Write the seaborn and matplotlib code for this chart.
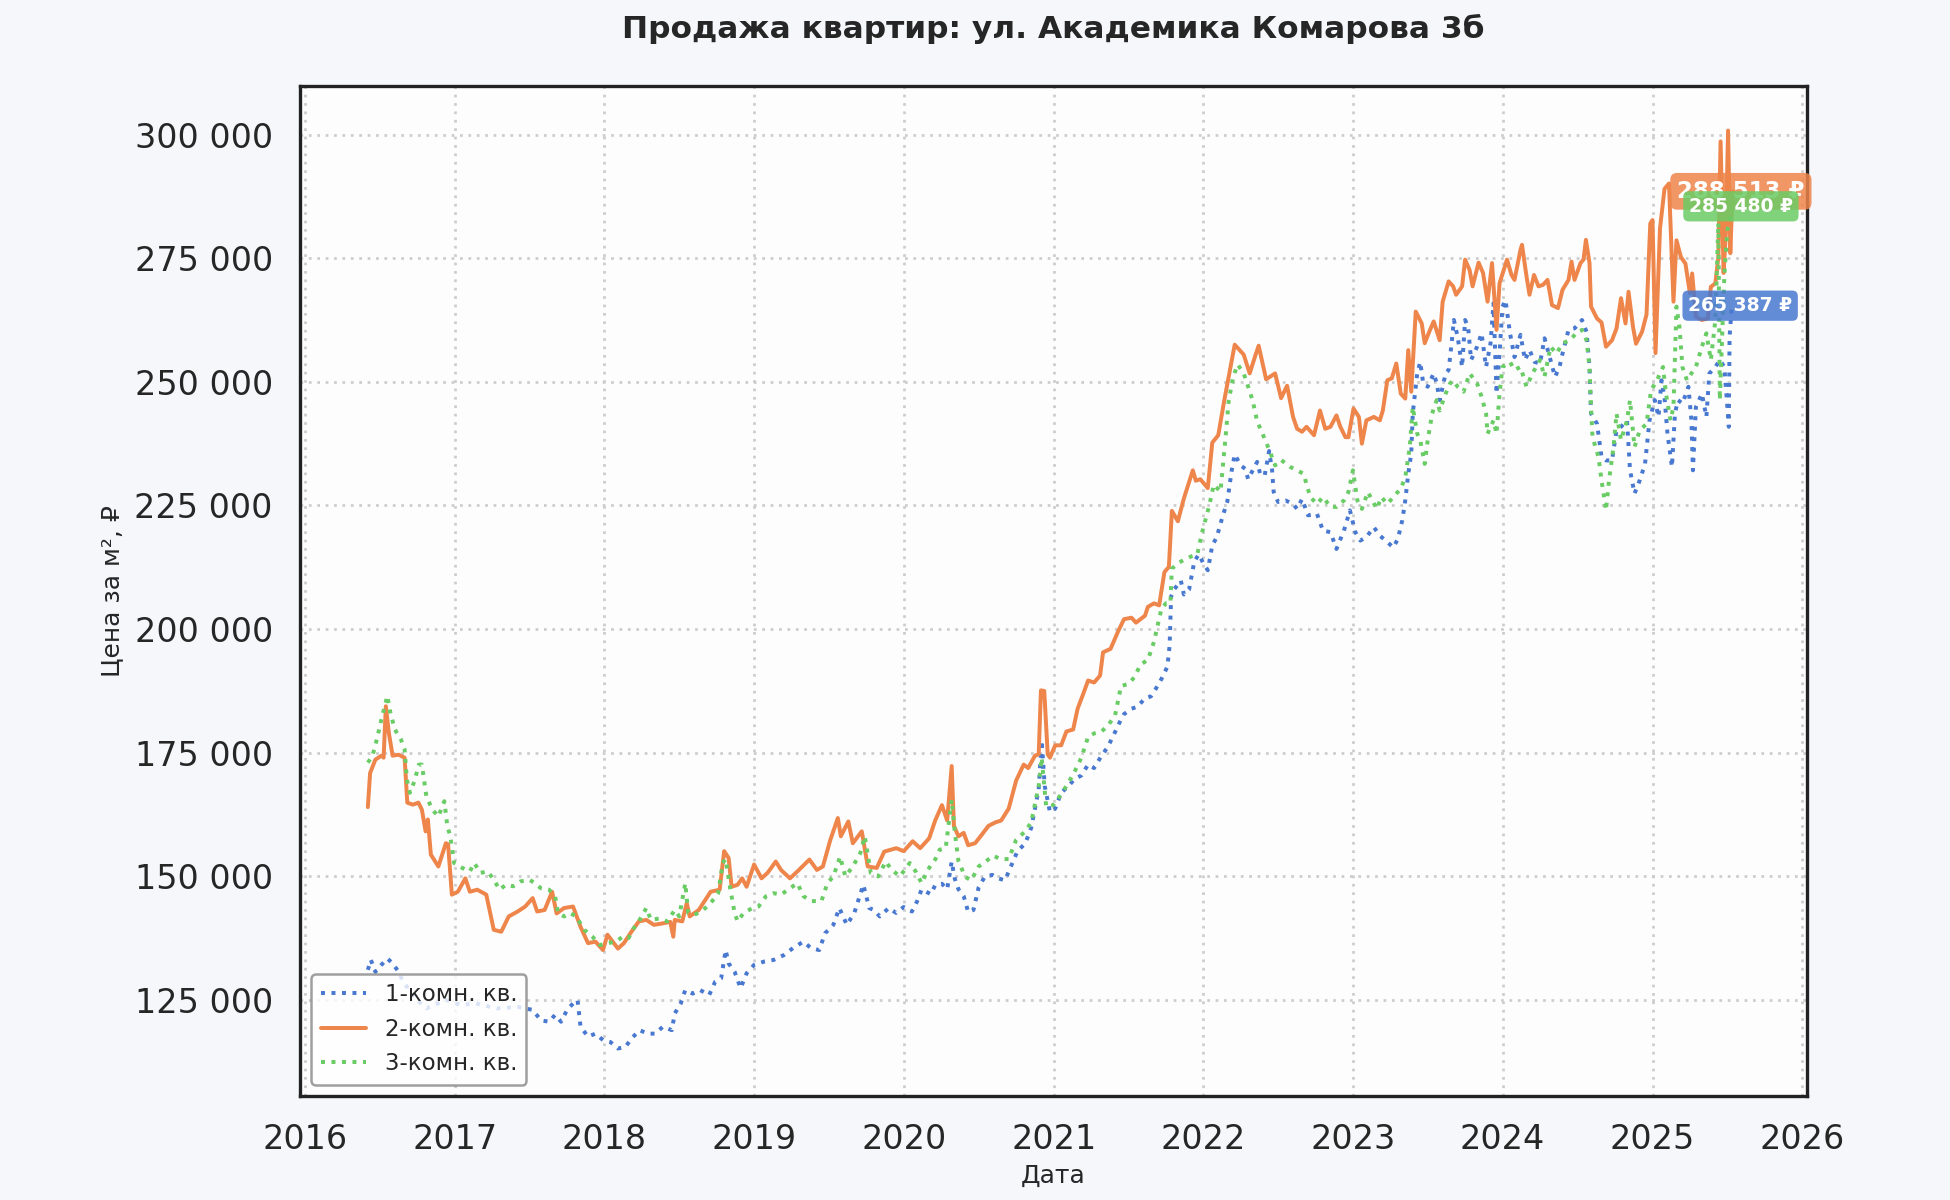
import pandas as pd
import numpy as np
import matplotlib
matplotlib.use("Agg")
import matplotlib.pyplot as plt
import matplotlib.dates as mdates
from matplotlib.ticker import FuncFormatter
import seaborn as sns

# ---------------- DATA (decimal years, price per m2) ----------------
t1 = [2016.42, 2016.44, 2016.47, 2016.51, 2016.55, 2016.585, 2016.625, 2016.65, 2016.73, 2016.81,
      2016.94, 2017.04, 2017.14, 2017.28, 2017.42, 2017.52, 2017.575, 2017.63, 2017.67, 2017.71,
      2017.75, 2017.79, 2017.82, 2017.84, 2017.89, 2017.94, 2017.99, 2018.04, 2018.09, 2018.14,
      2018.18, 2018.235, 2018.29, 2018.34, 2018.39, 2018.45, 2018.47, 2018.51, 2018.54, 2018.59,
      2018.64, 2018.70, 2018.74, 2018.78, 2018.81, 2018.83, 2018.87, 2018.91, 2018.95, 2019.00,
      2019.07, 2019.13, 2019.20, 2019.26, 2019.33, 2019.38, 2019.435, 2019.475, 2019.53, 2019.57,
      2019.62, 2019.67, 2019.73, 2019.77, 2019.80, 2019.84, 2019.90, 2019.95, 2020.00, 2020.055,
      2020.09, 2020.12, 2020.18, 2020.21, 2020.255, 2020.29, 2020.32, 2020.34, 2020.365, 2020.40,
      2020.43, 2020.465, 2020.50, 2020.54, 2020.59, 2020.63, 2020.675, 2020.72, 2020.76, 2020.81,
      2020.85, 2020.90, 2020.92, 2020.94, 2020.975, 2021.01, 2021.05, 2021.10, 2021.14, 2021.185,
      2021.23, 2021.27, 2021.32, 2021.36, 2021.395, 2021.44, 2021.47, 2021.52, 2021.56, 2021.61,
      2021.65, 2021.68, 2021.72, 2021.76, 2021.775, 2021.785, 2021.805, 2021.85, 2021.87, 2021.905,
      2021.94, 2021.97, 2022.00, 2022.03, 2022.06, 2022.09, 2022.13, 2022.16, 2022.19, 2022.21,
      2022.25, 2022.28, 2022.30, 2022.33, 2022.36, 2022.38, 2022.41, 2022.44, 2022.46, 2022.47,
      2022.50, 2022.55, 2022.60, 2022.627, 2022.66, 2022.70, 2022.76, 2022.80, 2022.85, 2022.89,
      2022.94, 2022.98, 2023.016, 2023.05, 2023.09, 2023.14, 2023.18, 2023.23, 2023.27, 2023.30,
      2023.33, 2023.35, 2023.37, 2023.39, 2023.40, 2023.43, 2023.45, 2023.47, 2023.50, 2023.54,
      2023.56, 2023.58, 2023.62, 2023.64, 2023.66, 2023.675, 2023.70, 2023.73, 2023.75, 2023.77,
      2023.79, 2023.83, 2023.86, 2023.89, 2023.92, 2023.94, 2023.96, 2023.98, 2024.00, 2024.02,
      2024.05, 2024.08, 2024.12, 2024.15, 2024.18, 2024.215, 2024.25, 2024.28, 2024.32, 2024.35,
      2024.38, 2024.40, 2024.44, 2024.48, 2024.53, 2024.56, 2024.58, 2024.59, 2024.63, 2024.66,
      2024.69, 2024.73, 2024.76, 2024.79, 2024.83, 2024.85, 2024.88, 2024.915, 2024.95, 2024.98,
      2025.015, 2025.04, 2025.06, 2025.08, 2025.10, 2025.13, 2025.15, 2025.17, 2025.20, 2025.24,
      2025.26, 2025.27, 2025.29, 2025.33, 2025.36, 2025.38, 2025.42, 2025.45, 2025.48, 2025.51,
      2025.515, 2025.53]
v1 = [131100, 133100, 130700, 132100, 133400, 132400, 130700, 129000, 125500, 123300,
      125000, 124000, 124300, 123300, 123600, 123000, 120900, 120600, 122000, 120600,
      123000, 124300, 125000, 119600, 117600, 118200, 116900, 116500, 115200, 115500,
      117200, 118900, 118200, 118200, 119600, 118900, 122300, 124300, 127000, 126300,
      127000, 126000, 128700, 129400, 135100, 132400, 130700, 127400, 130400, 132100,
      132800, 133100, 134100, 135500, 136800, 135500, 135100, 138500, 140200, 143600,
      140200, 142600, 148300, 143600, 143200, 141900, 143600, 142600, 143800, 142900,
      145000, 147400, 146400, 148200, 148500, 147400, 153000, 149600, 147400, 146000,
      142800, 143200, 147800, 149900, 150300, 149600, 149200, 152400, 155200, 156600,
      159800, 167600, 177500, 168300, 163000, 163700, 166900, 168300, 169700, 170400,
      172600, 171900, 174400, 176100, 178200, 181100, 182800, 183900, 184300, 186000,
      186400, 187800, 189900, 192400, 196700, 206600, 208000, 209800, 207000, 208000,
      213700, 215100, 213300, 211900, 216900, 218600, 222900, 225700, 232100, 235300,
      233100, 232400, 230300, 232100, 233800, 231400, 231000, 236000, 232100, 227800,
      225700, 226000, 225300, 224300, 226300, 223000, 223300, 219900, 219600, 216200,
      219900, 224000, 219600, 217900, 218600, 220600, 218900, 217600, 216500, 218200,
      222000, 226000, 231400, 235500, 243600, 251700, 254000, 249700, 249000, 251700,
      249700, 246300, 251700, 252400, 257800, 262500, 259100, 253000, 262500, 261100,
      254400, 257100, 259800, 253000, 257800, 265900, 247600, 255700, 265200, 266500,
      259800, 255000, 259500, 254400, 256400, 254000, 253700, 258800, 254400, 251000,
      253000, 255700, 260500, 260800, 262500, 260100, 253000, 243600, 241500, 234800,
      234100, 234100, 240200, 240900, 242200, 232100, 227400, 230100, 233400, 242200,
      246300, 242900, 250300, 246900, 239500, 232800, 243600, 246300, 245600, 249000,
      242200, 232100, 244900, 247600, 242900, 251700, 253000, 254400, 253000, 240900,
      259100, 265387]

t2 = [2016.42, 2016.435, 2016.47, 2016.51, 2016.525, 2016.54, 2016.56, 2016.585, 2016.625, 2016.665,
      2016.683, 2016.72, 2016.757, 2016.78, 2016.805, 2016.82, 2016.84, 2016.89, 2016.94, 2016.955,
      2016.98, 2017.02, 2017.07, 2017.10, 2017.15, 2017.21, 2017.26, 2017.31, 2017.36, 2017.42,
      2017.47, 2017.52, 2017.55, 2017.60, 2017.65, 2017.68, 2017.73, 2017.79, 2017.84, 2017.89,
      2017.94, 2017.99, 2018.02, 2018.09, 2018.13, 2018.18, 2018.23, 2018.28, 2018.33, 2018.39,
      2018.44, 2018.46, 2018.47, 2018.52, 2018.55, 2018.57, 2018.63, 2018.71, 2018.77, 2018.80,
      2018.83, 2018.85, 2018.89, 2018.92, 2018.95, 2019.00, 2019.05, 2019.09, 2019.145, 2019.18,
      2019.24, 2019.30, 2019.37, 2019.42, 2019.46, 2019.51, 2019.56, 2019.58, 2019.63, 2019.66,
      2019.72, 2019.76, 2019.82, 2019.87, 2019.95, 2020.00, 2020.06, 2020.11, 2020.17, 2020.21,
      2020.255, 2020.29, 2020.32, 2020.335, 2020.365, 2020.40, 2020.43, 2020.476, 2020.52, 2020.565,
      2020.61, 2020.65, 2020.70, 2020.75, 2020.80, 2020.83, 2020.875, 2020.90, 2020.915, 2020.937,
      2020.96, 2020.975, 2021.01, 2021.05, 2021.085, 2021.13, 2021.16, 2021.20, 2021.23, 2021.27,
      2021.31, 2021.33, 2021.38, 2021.43, 2021.47, 2021.52, 2021.55, 2021.61, 2021.63, 2021.67,
      2021.705, 2021.74, 2021.77, 2021.79, 2021.83, 2021.87, 2021.93, 2021.95, 2021.98, 2022.03,
      2022.06, 2022.10, 2022.14, 2022.19, 2022.21, 2022.27, 2022.31, 2022.35, 2022.37, 2022.42,
      2022.48, 2022.52, 2022.56, 2022.60, 2022.627, 2022.66, 2022.69, 2022.74, 2022.78, 2022.815,
      2022.85, 2022.89, 2022.916, 2022.95, 2022.97, 2023.004, 2023.04, 2023.06, 2023.09, 2023.14,
      2023.18, 2023.20, 2023.23, 2023.26, 2023.29, 2023.32, 2023.35, 2023.37, 2023.39, 2023.42,
      2023.46, 2023.48, 2023.51, 2023.54, 2023.58, 2023.60, 2023.64, 2023.67, 2023.69, 2023.73,
      2023.75, 2023.78, 2023.80, 2023.84, 2023.87, 2023.90, 2023.93, 2023.96, 2023.98, 2024.03,
      2024.06, 2024.08, 2024.12, 2024.13, 2024.16, 2024.18, 2024.21, 2024.24, 2024.27, 2024.30,
      2024.33, 2024.37, 2024.40, 2024.44, 2024.46, 2024.48, 2024.52, 2024.54, 2024.556, 2024.58,
      2024.59, 2024.63, 2024.66, 2024.69, 2024.73, 2024.76, 2024.79, 2024.82, 2024.84, 2024.87,
      2024.89, 2024.93, 2024.96, 2024.985, 2025.00, 2025.02, 2025.05, 2025.08, 2025.11, 2025.14,
      2025.16, 2025.19, 2025.22, 2025.25, 2025.265, 2025.29, 2025.33, 2025.37, 2025.39, 2025.42,
      2025.44, 2025.455, 2025.475, 2025.49, 2025.505, 2025.52, 2025.535]
v2 = [164000, 170900, 173600, 174400, 174000, 184400, 179000, 174400, 174600, 174000,
      164900, 164500, 164900, 163500, 159100, 161500, 154400, 152000, 156700, 156500,
      146300, 146900, 149600, 146900, 147300, 146300, 139200, 138800, 141900, 142900,
      143900, 145600, 142900, 143200, 146900, 142500, 143600, 143900, 139800, 136500,
      136800, 135100, 138200, 135400, 136500, 138800, 140900, 141200, 140200, 140500,
      140800, 137800, 141200, 140900, 144600, 141900, 143200, 146900, 147300, 155100,
      153700, 147900, 148300, 149600, 147900, 152400, 149600, 150700, 153000, 151300,
      149600, 151300, 153400, 151300, 152000, 157400, 161800, 158100, 161100, 156700,
      159100, 152000, 151700, 155000, 155700, 155100, 157100, 155700, 157700, 161300,
      164400, 161300, 172300, 160200, 158100, 158800, 156300, 156700, 158400, 160200,
      160900, 161300, 163700, 169400, 172600, 171900, 174400, 174700, 187600, 187500,
      174700, 174000, 176500, 176500, 179300, 179700, 183900, 187100, 189600, 189200,
      190600, 195300, 196000, 199500, 202000, 202300, 201300, 202700, 204500, 205200,
      204800, 211500, 212600, 223900, 221800, 226400, 232100, 230000, 230300, 228500,
      237700, 239200, 246200, 254200, 257500, 255500, 251700, 255500, 257300, 250500,
      251700, 246700, 249200, 242900, 240500, 239900, 240900, 239200, 244200, 240500,
      240900, 243200, 240900, 238800, 238800, 244600, 242900, 237500, 242200, 242900,
      242200, 244200, 250300, 250700, 253700, 247600, 246600, 256400, 248000, 264200,
      261800, 257800, 260100, 262200, 258400, 266200, 270300, 269300, 267600, 269300,
      274700, 272600, 269300, 274100, 272000, 266200, 274000, 260500, 269900, 274700,
      271600, 270600, 276700, 277700, 271300, 267600, 271600, 269300, 269600, 270600,
      265500, 264900, 268600, 270600, 274300, 270600, 274000, 274700, 278700, 274000,
      265200, 262800, 262000, 257100, 258400, 260800, 266900, 261800, 268200, 261100,
      257700, 260100, 263600, 282000, 282700, 255800, 281000, 289000, 290100, 266200,
      278600, 275200, 273900, 267900, 271900, 263200, 262500, 262800, 269200, 269900,
      275200, 298600, 272000, 280000, 300800, 276000, 288513]

t3 = [2016.42, 2016.45, 2016.48, 2016.51, 2016.53, 2016.55, 2016.57, 2016.60, 2016.64, 2016.665,
      2016.68, 2016.70, 2016.73, 2016.76, 2016.78, 2016.81, 2016.85, 2016.89, 2016.93, 2016.95,
      2016.97, 2016.995, 2017.05, 2017.10, 2017.13, 2017.17, 2017.22, 2017.26, 2017.30, 2017.34,
      2017.39, 2017.44, 2017.50, 2017.535, 2017.575, 2017.63, 2017.67, 2017.69, 2017.73, 2017.77,
      2017.81, 2017.865, 2017.92, 2017.97, 2018.02, 2018.08, 2018.12, 2018.16, 2018.195, 2018.235,
      2018.28, 2018.31, 2018.37, 2018.42, 2018.47, 2018.50, 2018.54, 2018.56, 2018.60, 2018.66,
      2018.71, 2018.76, 2018.79, 2018.81, 2018.84, 2018.87, 2018.89, 2018.93, 2018.99, 2019.03,
      2019.08, 2019.13, 2019.18, 2019.24, 2019.29, 2019.33, 2019.38, 2019.45, 2019.49, 2019.53,
      2019.575, 2019.61, 2019.66, 2019.71, 2019.74, 2019.78, 2019.83, 2019.88, 2019.92, 2019.975,
      2020.04, 2020.08, 2020.12, 2020.16, 2020.21, 2020.24, 2020.28, 2020.32, 2020.34, 2020.365,
      2020.41, 2020.45, 2020.50, 2020.55, 2020.60, 2020.64, 2020.70, 2020.75, 2020.81, 2020.85,
      2020.90, 2020.92, 2020.95, 2020.997, 2021.05, 2021.10, 2021.14, 2021.185, 2021.23, 2021.27,
      2021.32, 2021.36, 2021.41, 2021.45, 2021.50, 2021.54, 2021.58, 2021.63, 2021.67, 2021.72,
      2021.75, 2021.78, 2021.79, 2021.83, 2021.87, 2021.92, 2021.96, 2021.99, 2022.04, 2022.07,
      2022.115, 2022.15, 2022.17, 2022.20, 2022.23, 2022.27, 2022.30, 2022.33, 2022.36, 2022.40,
      2022.44, 2022.48, 2022.52, 2022.58, 2022.627, 2022.67, 2022.715, 2022.76, 2022.80, 2022.85,
      2022.89, 2022.94, 2022.97, 2023.00, 2023.03, 2023.06, 2023.10, 2023.16, 2023.19, 2023.23,
      2023.27, 2023.32, 2023.35, 2023.38, 2023.40, 2023.43, 2023.45, 2023.48, 2023.50, 2023.53,
      2023.56, 2023.58, 2023.62, 2023.65, 2023.67, 2023.70, 2023.74, 2023.78, 2023.83, 2023.86,
      2023.89, 2023.90, 2023.94, 2023.96, 2023.98, 2024.00, 2024.05, 2024.08, 2024.12, 2024.16,
      2024.20, 2024.25, 2024.28, 2024.32, 2024.36, 2024.40, 2024.45, 2024.49, 2024.53, 2024.56,
      2024.58, 2024.59, 2024.60, 2024.64, 2024.66, 2024.69, 2024.71, 2024.74, 2024.76, 2024.79,
      2024.83, 2024.85, 2024.88, 2024.915, 2024.96, 2024.99, 2025.03, 2025.05, 2025.07, 2025.09,
      2025.12, 2025.14, 2025.16, 2025.18, 2025.20, 2025.23, 2025.26, 2025.29, 2025.33, 2025.36,
      2025.39, 2025.42, 2025.44, 2025.45, 2025.48, 2025.50, 2025.52, 2025.535]
v3 = [173000, 174300, 177700, 181700, 184100, 186500, 183100, 179700, 177700, 175700,
      169600, 166900, 169200, 172600, 172600, 166200, 163500, 162100, 165200, 160100,
      158100, 152700, 151700, 151000, 152700, 150700, 151000, 149300, 147300, 148300,
      148000, 149000, 149300, 148600, 147600, 147300, 146000, 142600, 141900, 142600,
      141900, 139200, 137800, 136100, 136500, 136800, 137800, 137500, 139500, 141200,
      143600, 141200, 141500, 140900, 143200, 141900, 148600, 142600, 142200, 143200,
      144600, 146600, 152700, 153500, 147600, 142600, 140900, 142600, 143600, 143900,
      146000, 146600, 146300, 147600, 148600, 146000, 145000, 145000, 148600, 150000,
      154000, 150000, 152000, 154700, 158100, 150700, 150000, 153000, 151300, 150000,
      152700, 151000, 148600, 151300, 153400, 155400, 155700, 165500, 159100, 153100,
      149900, 149200, 152000, 153100, 154200, 153500, 153500, 157400, 159100, 160900,
      168300, 174000, 164100, 164400, 166600, 169000, 171200, 174000, 178200, 178900,
      179300, 180400, 182500, 188500, 188900, 190300, 192800, 193800, 197400, 204100,
      205200, 205200, 212200, 213300, 214000, 214700, 215100, 219300, 225000, 229200,
      227800, 239200, 246200, 251000, 253500, 251700, 249000, 246200, 242000, 239200,
      236300, 233100, 234200, 232800, 232100, 231400, 226700, 225300, 226700, 224700,
      224700, 226000, 227700, 232100, 226000, 224300, 227700, 224300, 226700, 225300,
      226700, 228400, 230700, 236800, 244900, 239500, 238200, 233400, 238200, 243600,
      246300, 244200, 247600, 249700, 250300, 249000, 248000, 251700, 249700, 247000,
      243600, 239500, 242200, 239500, 247600, 253000, 254000, 252400, 253000, 249000,
      251700, 254400, 251000, 257100, 255700, 257800, 258400, 259800, 260500, 258400,
      253000, 244900, 238800, 234800, 230100, 224000, 230100, 236800, 243600, 238200,
      242200, 246300, 236800, 240200, 241500, 248300, 250300, 251700, 253000, 247600,
      242200, 244900, 265200, 261100, 253000, 250300, 251700, 253000, 257100, 259800,
      254400, 262500, 282100, 246300, 271300, 280700, 282800, 285480]

series_labels = ["1-комн. кв.", "2-комн. кв.", "3-комн. кв."]
title_text = "Продажа квартир: ул. Академика Комарова 3б"
x_label = "Дата"
y_label = "Цена за м², ₽"


def to_dates(years):
    out = []
    for y in years:
        yr = int(np.floor(y))
        start = pd.Timestamp(year=yr, month=1, day=1)
        end = pd.Timestamp(year=yr + 1, month=1, day=1)
        out.append(start + (end - start) * (y - yr))
    return out


# ---------------- STYLE ----------------
sns.set_theme(style="whitegrid", palette="muted")
plt.rcParams["font.family"] = ["DejaVu Sans"]
colors = sns.color_palette("muted")
c_blue, c_orange, c_green = colors[0], colors[1], colors[2]

fig = plt.figure(figsize=(13, 8), dpi=150, facecolor="#f5f7fb")
ax = fig.add_axes([0.1538, 0.0867, 0.9267 - 0.1538, 0.9283 - 0.0867])
ax.set_facecolor("#fdfdfe")

series = [
    (t1, v1, series_labels[0], c_blue, ":"),
    (t2, v2, series_labels[1], c_orange, "-"),
    (t3, v3, series_labels[2], c_green, ":"),
]

for t, v, lab, col, ls in series:
    df = pd.DataFrame({"date": to_dates(t), "price": v})
    sns.lineplot(data=df, x="date", y="price", ax=ax, color=col, linestyle=ls,
                 linewidth=1.9, label=lab, estimator=None, sort=False)

# last-value labels
for (t, v, lab, col, ls), fs in zip([series[1], series[2], series[0]], [11, 9, 9]):
    last_d = to_dates([t[-1]])[0]
    txt = f"{v[-1]:,} ₽".replace(",", " ")
    ax.annotate(txt, xy=(last_d, v[-1]), xytext=(4, 0), textcoords="offset points",
                ha="center", va="center", fontsize=fs, fontweight="bold", color="white",
                annotation_clip=False, zorder=10,
                bbox=dict(boxstyle="round,pad=0.3", fc=col, ec="none", alpha=0.85))

# axes limits & ticks
ax.set_xlim(to_dates([2015.967])[0], to_dates([2026.033])[0])
ax.set_ylim(105600, 309800)
ax.xaxis.set_major_locator(mdates.YearLocator())
ax.xaxis.set_major_formatter(mdates.DateFormatter("%Y"))
ax.yaxis.set_major_locator(matplotlib.ticker.MultipleLocator(25000))
ax.yaxis.set_major_formatter(FuncFormatter(lambda x, p: f"{x:,.0f}".replace(",", " ")))
ax.tick_params(axis="both", labelsize=16, length=0, pad=13, colors="#262626")

ax.grid(True, linestyle=(0, (1, 2.1)), color="#cccccc", linewidth=1.3)
for sp in ax.spines.values():
    sp.set_visible(True)
    sp.set_color("#222222")
    sp.set_linewidth(1.6)

ax.set_xlabel(x_label, fontsize=12, color="#262626", labelpad=4)
ax.set_ylabel(y_label, fontsize=12, color="#262626", labelpad=5)
ax.set_title(title_text, fontsize=15, fontweight="bold", color="#262626", pad=23)

leg = ax.legend(loc="lower left", fontsize=11, frameon=True, fancybox=True,
                framealpha=0.8, facecolor="white", edgecolor="#888888")
leg.get_frame().set_linewidth(1.2)
for txt in leg.get_texts():
    txt.set_color("#262626")

fig.savefig("out.png", dpi=150, facecolor=fig.get_facecolor())
